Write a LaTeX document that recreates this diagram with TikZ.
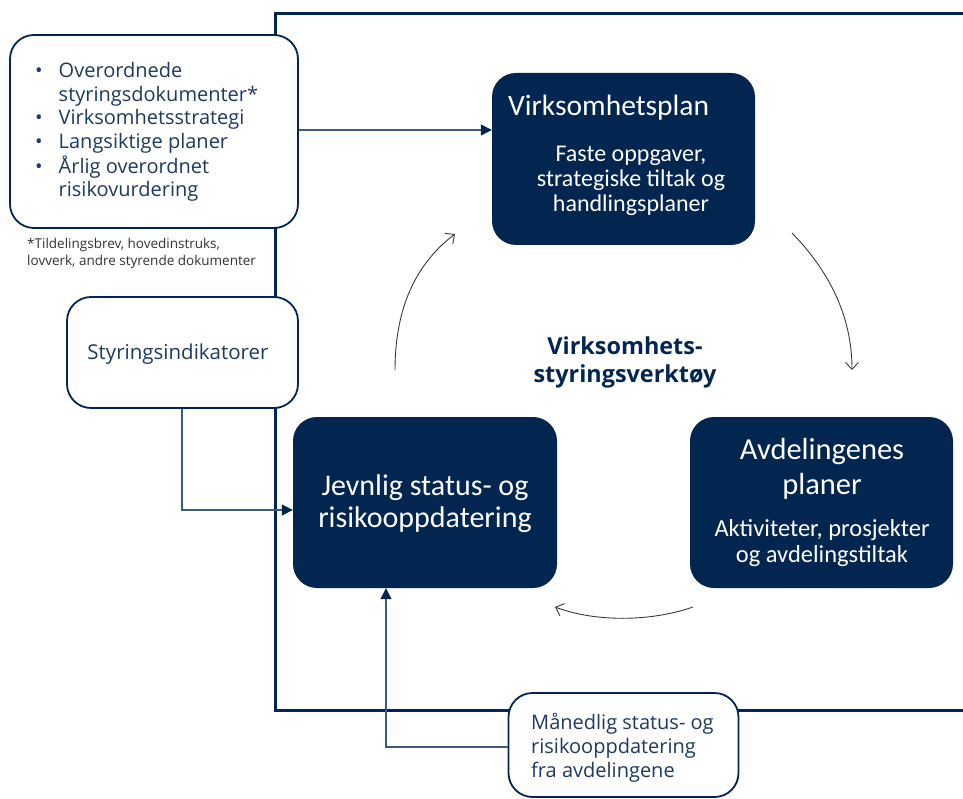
\documentclass[tikz,border=0pt]{standalone}
\usepackage{fontspec}
\setmainfont{Open Sans}
\newfontfamily\calfont{Carlito}
\usetikzlibrary{arrows.meta}
\definecolor{navy}{HTML}{02264F}
\definecolor{navytext}{HTML}{1E3A60}
\definecolor{conn}{HTML}{3F5A80}
\definecolor{curve}{HTML}{3A3A3A}
\tikzset{
  darkbox/.style={draw=none, fill=navy, rounded corners=24pt, inner sep=0pt},
  whitebox/.style={draw=navy, line width=1.8pt, fill=white, rounded corners=24pt, inner sep=0pt},
  frame/.style={draw=navy, line width=3pt},
  conline/.style={draw=conn, line width=1.2pt, -{Triangle[length=11pt,width=11pt,fill=navy,color=navy]}},
  curvearrow/.style={draw=curve, line width=0.9pt, -{Straight Barb[length=7pt,width=13pt,line width=0.9pt]}},
  wtext/.style={text=white, inner sep=0pt, align=center},
  btext/.style={text=navytext, inner sep=0pt}
}
\begin{document}
\begin{tikzpicture}[x=1pt,y=-1pt]
\useasboundingbox (0,0) rectangle (963,799);
% frame
\draw[frame] (963,14) -- (275,14) -- (275,710) -- (963,710);

% boxes
\node[whitebox, minimum width=288pt, minimum height=193pt] (inputs) at (154,131.5) {};
\node[btext, anchor=north west, align=left, font=\fontsize{20}{23.6}\selectfont] (inputstext) at (35,61)
 {\begin{tabular}{@{}l@{\hspace{16pt}}l@{}}
  \textbullet & Overordnede\\
              & styringsdokumenter*\\
  \textbullet & Virksomhetsstrategi\\
  \textbullet & Langsiktige planer\\
  \textbullet & Årlig overordnet\\
              & risikovurdering
  \end{tabular}};
\node[anchor=north west, inner sep=0pt, align=left, text=black!80, font=\fontsize{13.5}{17}\selectfont] (foot) at (27,238)
 {*Tildelingsbrev, hovedinstruks,\\lovverk, andre styrende dokumenter};

\node[darkbox, minimum width=263pt, minimum height=172pt] (plan) at (623.5,159) {};
\node[wtext, anchor=west, font=\calfont\fontsize{29.5}{32}\selectfont] (plantitle) at (508,108) {Virksomhetsplan};
\node[wtext, font=\calfont\fontsize{24}{25}\selectfont] (plansub) at (631,181) {Faste oppgaver,\\strategiske tiltak og\\handlingsplaner};

\node[whitebox, minimum width=231pt, minimum height=111pt] (indik) at (182.5,352.5) {};
\node[btext, font=\fontsize{20.5}{24}\selectfont] (indiktext) at (178,354) {Styringsindikatorer};

\node[darkbox, minimum width=264pt, minimum height=171pt] (jevn) at (425,502.5) {};
\node[wtext, font=\calfont\fontsize{30}{32}\selectfont] (jevntext) at (425,504) {Jevnlig status- og\\risikooppdatering};

\node[darkbox, minimum width=263pt, minimum height=171pt] (avd) at (821.5,502.5) {};
\node[wtext, font=\calfont\fontsize{30.5}{35}\selectfont] (avdtitle) at (822,469) {Avdelingenes\\planer};
\node[wtext, font=\calfont\fontsize{24.5}{26}\selectfont] (avdsub) at (822,543) {Aktiviteter, prosjekter\\og avdelingstiltak};

\node[whitebox, minimum width=230pt, minimum height=104pt] (maan) at (623.5,745) {};
\node[btext, anchor=west, align=left, font=\fontsize{20}{24}\selectfont] (maantext) at (531,748) {Månedlig status- og\\risikooppdatering\\fra avdelingene};

\node[text=navy, inner sep=0pt, align=center, font=\bfseries\fontsize{23.4}{28}\selectfont] (title) at (625,362) {Virksomhets-\\styringsverktøy};

% connectors
\draw[conline] (inputs.east |- 0,130) -- (plan.west |- 0,130);
\coordinate (c1) at (182,510);
\draw[conline] (indik.south -| c1) -- (c1) -- (jevn.west |- c1);
\coordinate (c2) at (386,747);
\draw[conline] (maan.west |- c2) -- (c2) -- (jevn.south -| c2);

% cycle arrows
\coordinate (a1s) at (395,370);
\coordinate (a1e) at (455,234);
\draw[curvearrow] (a1s) .. controls (395,305) and (418,262) .. (a1e);
\coordinate (a2s) at (792,233);
\coordinate (a2e) at (852,370);
\draw[curvearrow] (a2s) .. controls (828,270) and (852,315) .. (a2e);
\coordinate (a3s) at (693,607);
\coordinate (a3e) at (555,607);
\draw[curvearrow] (a3s) .. controls (650,622) and (595,622) .. (a3e);
\end{tikzpicture}
\end{document}
